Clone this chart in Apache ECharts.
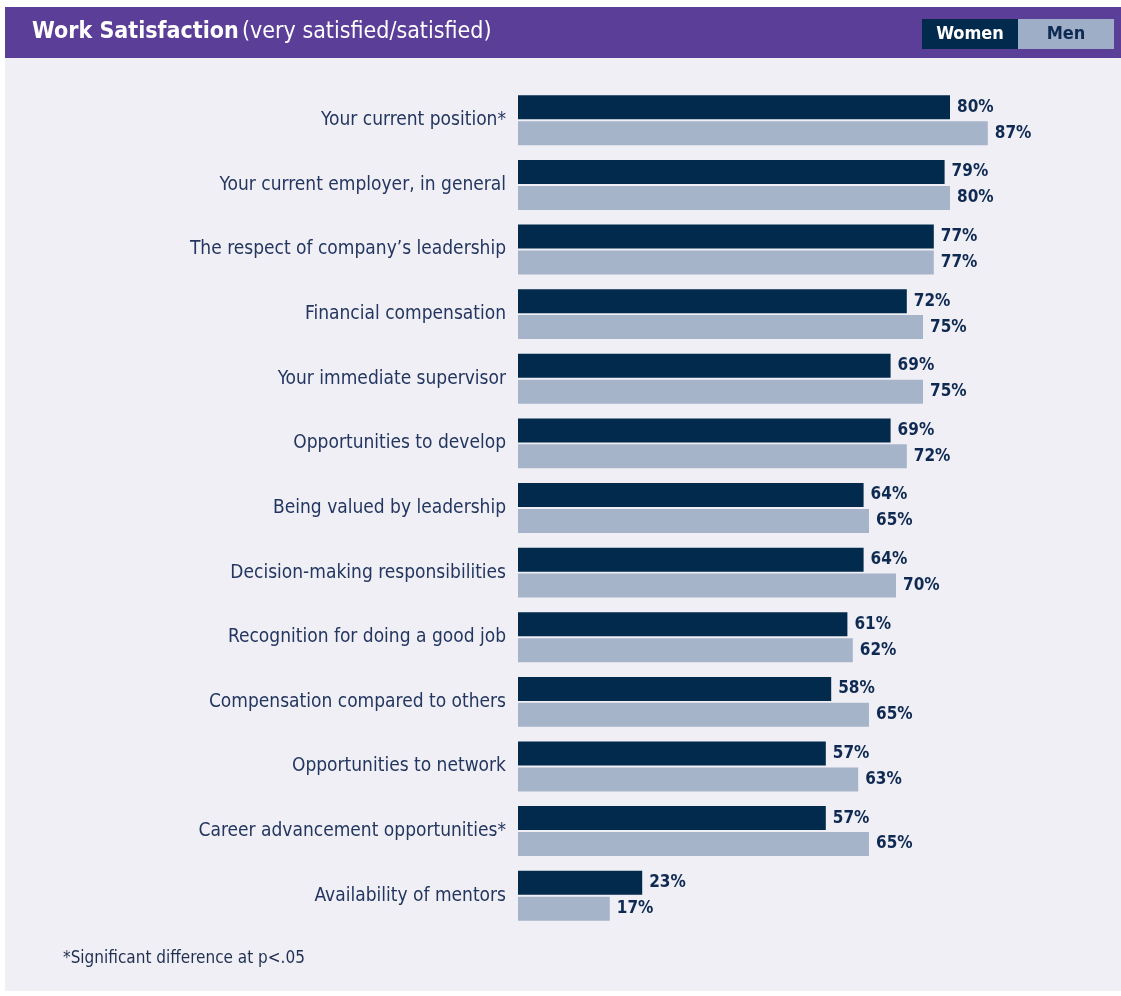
<!DOCTYPE html>
<html>
<head>
<meta charset="utf-8">
<script src="https://cdn.jsdelivr.net/npm/echarts@6/dist/echarts.min.js"></script>
<style>
html,body{margin:0;padding:0;background:#fff;}
#main{width:1121px;height:996px;}
</style>
</head>
<body>
<div id="main"></div>
<script>
// survey items, top to bottom
var categories = [
  'Your current position*',
  'Your current employer, in general',
  'The respect of company\u2019s leadership',
  'Financial compensation',
  'Your immediate supervisor',
  'Opportunities to develop',
  'Being valued by leadership',
  'Decision-making responsibilities',
  'Recognition for doing a good job',
  'Compensation compared to others',
  'Opportunities to network',
  'Career advancement opportunities*',
  'Availability of mentors'
];
var women = [80, 79, 77, 72, 69, 69, 64, 64, 61, 58, 57, 57, 23];
var men   = [87, 80, 77, 75, 75, 72, 65, 70, 62, 65, 63, 65, 17];

var navy = '#012a4d';
var grey = '#a6b4ca';
var condensed = '"Liberation Sans Narrow","DejaVu Sans Condensed","Open Sans",sans-serif';

var myChart = echarts.init(document.getElementById('main'));

var valueLabel = {
  show: true,
  position: 'right',
  distance: 7,
  formatter: '{c}%',
  color: '#0f2a52',
  fontSize: 17,
  fontWeight: 'bold',
  fontFamily: condensed
};

var option = {
  backgroundColor: '#ffffff',
  animation: false,
  graphic: [
    // panel
    { type: 'rect', z: -10, shape: { x: 5, y: 58, width: 1116, height: 933 }, style: { fill: '#f0eff5' } },
    // header band
    { type: 'rect', z: -10, shape: { x: 5, y: 7, width: 1116, height: 51 }, style: { fill: '#5a3e97' } },
    {
      type: 'text', left: 32, top: 21,
      style: {
        text: '{b|Work Satisfaction} {n|(very satisfied/satisfied)}',
        rich: {
          b: { fontSize: 23, fontWeight: 'bold', fill: '#fff', fontFamily: condensed },
          n: { fontSize: 23, fill: '#fff', fontFamily: condensed }
        }
      }
    },
    // legend boxes
    { type: 'rect', shape: { x: 922, y: 19, width: 96, height: 30 }, style: { fill: navy } },
    { type: 'rect', shape: { x: 1018, y: 19, width: 96, height: 30 }, style: { fill: '#9daec6' } },
    { type: 'text', x: 970, y: 34, style: { text: 'Women', fill: '#fff', fontSize: 18, fontWeight: 'bold', fontFamily: condensed, align: 'center', verticalAlign: 'middle' } },
    { type: 'text', x: 1066, y: 34, style: { text: 'Men', fill: '#0f2a52', fontSize: 18, fontWeight: 'bold', fontFamily: condensed, align: 'center', verticalAlign: 'middle' } },
    // footnote
    { type: 'text', left: 63, top: 950, style: { text: '*Significant difference at p<.05', fill: '#1f2f52', fontSize: 17, fontFamily: condensed } }
  ],
  grid: { left: 518, width: 540, top: 88, bottom: 68 },
  xAxis: { type: 'value', min: 0, max: 100, show: false },
  yAxis: {
    type: 'category',
    data: categories,
    inverse: true,
    axisLine: { show: false },
    axisTick: { show: false },
    axisLabel: { margin: 12, color: '#233660', fontSize: 19, fontFamily: condensed }
  },
  series: [
    { name: 'Women', type: 'bar', data: women, barWidth: 24, barGap: '8%', itemStyle: { color: navy }, label: valueLabel },
    { name: 'Men', type: 'bar', data: men, barWidth: 24, itemStyle: { color: grey }, label: valueLabel }
  ]
};

myChart.setOption(option);
</script>
</body>
</html>
